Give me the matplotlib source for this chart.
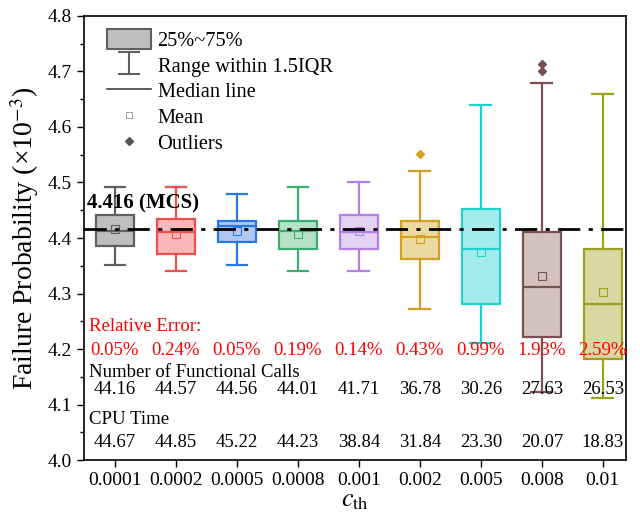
import numpy as np
import matplotlib
matplotlib.use('Agg')
import matplotlib.pyplot as plt
from matplotlib.path import Path
from matplotlib.patches import Patch
from matplotlib.lines import Line2D

plt.rcParams['font.family'] = ['Liberation Serif', 'DejaVu Serif']
plt.rcParams['mathtext.fontset'] = 'stix'

# data
c_th = ['0.0001', '0.0002', '0.0005', '0.0008', '0.001', '0.002', '0.005', '0.008', '0.01']
q1 = [4.386, 4.371, 4.392, 4.381, 4.381, 4.362, 4.282, 4.222, 4.182]
med = [4.413, 4.411, 4.422, 4.413, 4.411, 4.402, 4.381, 4.311, 4.282]
q3 = [4.441, 4.435, 4.431, 4.431, 4.441, 4.431, 4.452, 4.411, 4.381]
whislo = [4.351, 4.341, 4.351, 4.341, 4.341, 4.272, 4.211, 4.123, 4.112]
whishi = [4.491, 4.491, 4.480, 4.491, 4.501, 4.521, 4.640, 4.680, 4.660]
means = [4.416, 4.407, 4.413, 4.408, 4.412, 4.398, 4.374, 4.332, 4.303]
fliers = [[], [], [], [], [], [4.551], [], [4.700, 4.713], []]
mcs = 4.416
rel_err = ['0.05%', '0.24%', '0.05%', '0.19%', '0.14%', '0.43%', '0.99%', '1.93%', '2.59%']
n_calls = ['44.16', '44.57', '44.56', '44.01', '41.71', '36.78', '30.26', '27.63', '26.53']
cpu_time = ['44.67', '44.85', '45.22', '44.23', '38.84', '31.84', '23.30', '20.07', '18.83']

edge_colors = ['#606060', '#f25050', '#2878e0', '#3cae6e', '#b57ee6', '#d4a020', '#22d0d0', '#7c5050', '#a0a020']
face_colors = ['#bfbfbf', '#fbb8b8', '#b0c8f0', '#b8e2c8', '#e2d2f4', '#ecd9a2', '#a4ecec', '#d4c2c2', '#d8d8a2']

fig = plt.figure(figsize=(6.4, 5.13), dpi=100)
ax = fig.add_axes([0.131, 0.103, 0.847, 0.866])

pos = np.arange(1, len(c_th) + 1)
for i in range(len(c_th)):
    st = [{'med': med[i], 'q1': q1[i], 'q3': q3[i], 'whislo': whislo[i],
           'whishi': whishi[i], 'mean': means[i], 'fliers': fliers[i]}]
    ec = edge_colors[i]
    ax.bxp(st, positions=[pos[i]], widths=0.62, patch_artist=True, showmeans=True,
           capwidths=0.34,
           boxprops=dict(facecolor=face_colors[i], edgecolor=ec, linewidth=1.6),
           medianprops=dict(color=ec, linewidth=1.6),
           whiskerprops=dict(color=ec, linewidth=1.6),
           capprops=dict(color=ec, linewidth=1.6),
           meanprops=dict(marker='s', markerfacecolor='none', markeredgecolor=ec,
                          markersize=5.5, markeredgewidth=0.8),
           flierprops=dict(marker='D', markerfacecolor=ec, markeredgecolor=ec, markersize=4.5))

ax.axhline(mcs, color='black', linestyle=(0, (8, 3, 1.5, 3)), linewidth=2, zorder=5)
ax.text(0.55, 4.463, '4.416 (MCS)', fontsize=15, fontweight='bold', va='center', ha='left')

fs = 13.5
ax.text(0.58, 4.233, 'Relative Error:', color='red', fontsize=fs, va='baseline', ha='left')
ax.text(0.58, 4.149, 'Number of Functional Calls', color='black', fontsize=fs, va='baseline', ha='left')
ax.text(0.58, 4.066, 'CPU Time', color='black', fontsize=fs, va='baseline', ha='left')
for i in range(len(c_th)):
    ax.text(pos[i], 4.189, rel_err[i], color='red', fontsize=fs, va='baseline', ha='center')
    ax.text(pos[i], 4.120, n_calls[i], color='black', fontsize=fs, va='baseline', ha='center')
    ax.text(pos[i], 4.023, cpu_time[i], color='black', fontsize=fs, va='baseline', ha='center')

ax.set_xlim(0.49, 9.38)
ax.set_ylim(4.0, 4.8)
ax.set_xticks(pos)
ax.set_xticklabels(c_th)
ax.set_yticks(np.arange(4.0, 4.81, 0.1))
ax.set_yticks(np.arange(4.05, 4.8, 0.1), minor=True)
ax.tick_params(axis='both', which='major', labelsize=14, direction='out', length=5, width=1)
ax.tick_params(axis='y', which='minor', direction='out', length=3, width=1)
for s in ax.spines.values():
    s.set_linewidth(1.2)

ax.set_ylabel('Failure Probability (×10$^{-3}$)', fontsize=20, labelpad=5)
ax.set_xlabel(r'$c_{\mathrm{th}}$', fontsize=19, labelpad=1)

# legend
ibeam = Path([(-1, 1), (1, 1), (0, 1), (0, -1), (-1, -1), (1, -1)],
             [Path.MOVETO, Path.LINETO, Path.MOVETO, Path.LINETO, Path.MOVETO, Path.LINETO])
handles = [
    Patch(facecolor='#bfbfbf', edgecolor='#606060', linewidth=1.5),
    Line2D([], [], marker=ibeam, markersize=16, color='#606060', linestyle='none', markeredgewidth=1.5),
    Line2D([], [], color='#404040', linewidth=1.2),
    Line2D([], [], marker='s', markersize=4.5, markerfacecolor='none', markeredgecolor='#909090',
           linestyle='none', markeredgewidth=0.6),
    Line2D([], [], marker='D', markersize=4.5, color='#555555', linestyle='none'),
]
labels = ['25%~75%', 'Range within 1.5IQR', 'Median line', 'Mean', 'Outliers']
ax.legend(handles, labels, loc='upper left', bbox_to_anchor=(0.008, 1.012), frameon=False,
          fontsize=14.7, handlelength=2.2, handleheight=1.1, labelspacing=0.2, handletextpad=0.3)

fig.savefig('out.png', dpi=100)
